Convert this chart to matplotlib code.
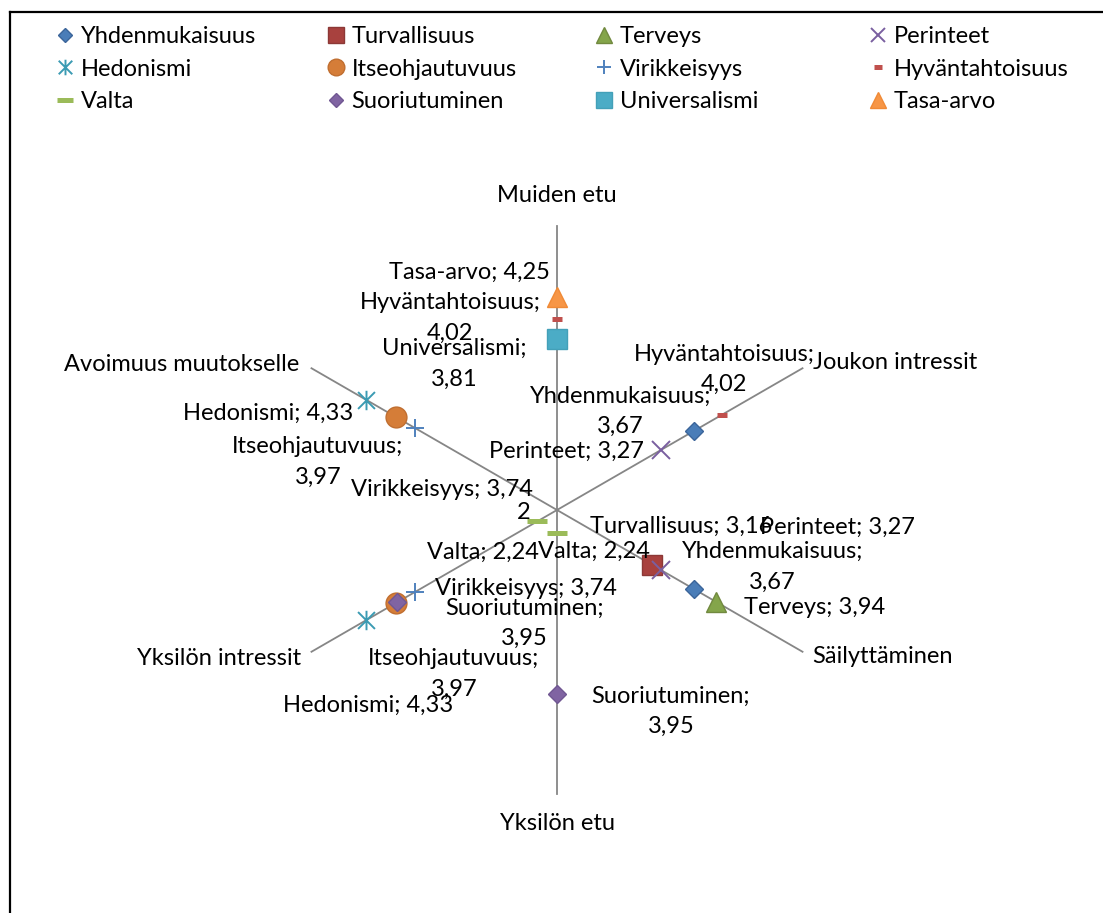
import numpy as np
import matplotlib
matplotlib.use('Agg')
import matplotlib.pyplot as plt
from matplotlib.path import Path
from matplotlib.lines import Line2D

plt.rcParams['font.family'] = ['Lato', 'DejaVu Sans']

# axis directions (degrees) and their names
axis_angles = {'Muiden etu': 90, 'Yksilön etu': 270, 'Joukon intressit': 30,
               'Yksilön intressit': 210, 'Avoimuus muutokselle': 150, 'Säilyttäminen': 330}

# value series: (axis, value) pairs per value
Yhdenmukaisuus = [('Joukon intressit', 3.67), ('Säilyttäminen', 3.67)]
Turvallisuus = [('Säilyttäminen', 3.16)]
Terveys = [('Säilyttäminen', 3.94)]
Perinteet = [('Joukon intressit', 3.27), ('Säilyttäminen', 3.27)]
Hedonismi = [('Avoimuus muutokselle', 4.33), ('Yksilön intressit', 4.33)]
Itseohjautuvuus = [('Avoimuus muutokselle', 3.97), ('Yksilön intressit', 3.97)]
Virikkeisyys = [('Avoimuus muutokselle', 3.74), ('Yksilön intressit', 3.74)]
Hyvantahtoisuus = [('Muiden etu', 4.02), ('Joukon intressit', 4.02)]
Valta = [('Yksilön etu', 2.24), ('Yksilön intressit', 2.24)]
Suoriutuminen = [('Yksilön etu', 3.95), ('Yksilön intressit', 3.95)]
Universalismi = [('Muiden etu', 3.81)]
Tasa_arvo = [('Muiden etu', 4.25)]

origin = 2.0  # value at centre
FS = 17

star = Path([(-1, -1), (1, 1), (-1, 1), (1, -1), (0, -1.15), (0, 1.15)],
            [Path.MOVETO, Path.LINETO, Path.MOVETO, Path.LINETO, Path.MOVETO, Path.LINETO])

# name, data, marker style, label offsets (pixels) for each point, wrapped label?
series = [
    ('Yhdenmukaisuus', Yhdenmukaisuus, dict(marker='D', ms=9.5, mfc='#4A7DB8', mec='#3B659A'),
     [(-73, 20, True), (79, 22, True)]),
    ('Turvallisuus', Turvallisuus, dict(marker='s', ms=14.5, mfc='#A8413E', mec='#8C3836'),
     [(29, 38, False)]),
    ('Terveys', Terveys, dict(marker='^', ms=14.5, mfc='#84A54A', mec='#71893F'),
     [(99, -6, False)]),
    ('Perinteet', Perinteet, dict(marker='x', ms=12.5, mec='#7A5FA0', mew=1.4),
     [(-94, -1, False), (177, 43, False)]),
    ('Hedonismi', Hedonismi, dict(marker=star, ms=14, mfc='none', mec='#3B9BB3', mew=1.4),
     [(-98, -13, False), (2, -85, False)]),
    ('Itseohjautuvuus', Itseohjautuvuus, dict(marker='o', ms=15, mfc='#D57D38', mec='#C06E30'),
     [(-78, -45, True), (58, -71, True)]),
    ('Virikkeisyys', Virikkeisyys, dict(marker='+', ms=13, mec='#4F81BD', mew=1.4),
     [(27, -62, False), (111, 4, False)]),
    ('Hyväntahtoisuus', Hyvantahtoisuus, dict(marker='_', ms=7, mec='#C0504D', mew=3.6),
     [(-107, 1, True), (2, 45, True)]),
    ('Valta', Valta, dict(marker='_', ms=14, mec='#9BBB59', mew=3.6),
     [(37, -19, False), (-54, -31, False)]),
    ('Suoriutuminen', Suoriutuminen, dict(marker='D', ms=9.5, mfc='#8064A2', mec='#705792'),
     [(114, -17, True), (127, -21, True)]),
    ('Universalismi', Universalismi, dict(marker='s', ms=14.5, mfc='#4BACC6', mec='#43A0B8'),
     [(-103, -25, True)]),
    ('Tasa-arvo', Tasa_arvo, dict(marker='^', ms=14.5, mfc='#F79646', mec='#F08A36'),
     [(-88, 25, False)]),
]

W, H = 1103, 913
cx, cy, k = 557, 510, 94.5
fig = plt.figure(figsize=(W / 100, H / 100), dpi=100)
ax = fig.add_axes([0, 0, 1, 1])
ax.set_xlim(-cx / k, (W - cx) / k)
ax.set_ylim(-(H - cy) / k, cy / k)
ax.axis('off')

# axis lines
for a in (90, 30, 150):
    t = np.deg2rad(a)
    ax.plot([-3 * np.cos(t), 3 * np.cos(t)], [-3 * np.sin(t), 3 * np.sin(t)],
            color='#868686', lw=1.3, zorder=1)

# axis titles
title_off = {'Muiden etu': (0, 31, 'center'), 'Yksilön etu': (0, -30, 'center'),
             'Joukon intressit': (10, 6, 'left'), 'Avoimuus muutokselle': (-12, 4, 'right'),
             'Säilyttäminen': (10, -5, 'left'), 'Yksilön intressit': (-10, -7, 'right')}
for name, a in axis_angles.items():
    t = np.deg2rad(a)
    dx, dy, ha = title_off[name]
    ax.annotate(name, (3 * np.cos(t), 3 * np.sin(t)), xytext=(dx, dy),
                textcoords='offset pixels', ha=ha, va='center', fontsize=FS)

handles = {}
for name, data, style, offs in series:
    xs, ys = [], []
    for ax_name, v in data:
        t = np.deg2rad(axis_angles[ax_name])
        xs.append((v - origin) * np.cos(t))
        ys.append((v - origin) * np.sin(t))
    h, = ax.plot(xs, ys, linestyle='none', label=name, zorder=3, **style)
    handles[name] = h
    for (ax_name, v), x, y, (dx, dy, wrap) in zip(data, xs, ys, offs):
        val = ('%.2f' % v).replace('.', ',')
        txt = name + (';\n' if wrap else '; ') + val
        ax.annotate(txt, (x, y), xytext=(dx, dy), textcoords='offset pixels',
                    ha='center', va='center', fontsize=FS, linespacing=1.55, zorder=4)

# stray label near centre
t = np.deg2rad(axis_angles['Yksilön intressit'])
ax.annotate('2', ((Valta[1][1] - origin) * np.cos(t), (Valta[1][1] - origin) * np.sin(t)),
            xytext=(-14, 9), textcoords='offset pixels', ha='center', va='center', fontsize=FS)

# legend: four columns of three rows
cols = [['Yhdenmukaisuus', 'Hedonismi', 'Valta'],
        ['Turvallisuus', 'Itseohjautuvuus', 'Suoriutuminen'],
        ['Terveys', 'Virikkeisyys', 'Universalismi'],
        ['Perinteet', 'Hyväntahtoisuus', 'Tasa-arvo']]
col_x = [56, 327, 595, 869]
for names, x0 in zip(cols, col_x):
    leg = ax.legend([handles[n] for n in names], names, loc='upper left',
                    bbox_to_anchor=(x0 / W, 1 - 26 / H), bbox_transform=fig.transFigure,
                    frameon=False, fontsize=FS, markerscale=0.8, handlelength=0.8,
                    handletextpad=0.24, labelspacing=0.49, borderpad=0, borderaxespad=0)
    ax.add_artist(leg)
ax.legend_ = None

# chart border (left and top edges visible)
fig.add_artist(Line2D([10 / W, 10 / W], [0, 1 - 12 / H], color='black', lw=1.6,
                      transform=fig.transFigure))
fig.add_artist(Line2D([10 / W, 1], [1 - 12 / H, 1 - 12 / H], color='black', lw=1.6,
                      transform=fig.transFigure))

fig.savefig('out.png', dpi=100)
